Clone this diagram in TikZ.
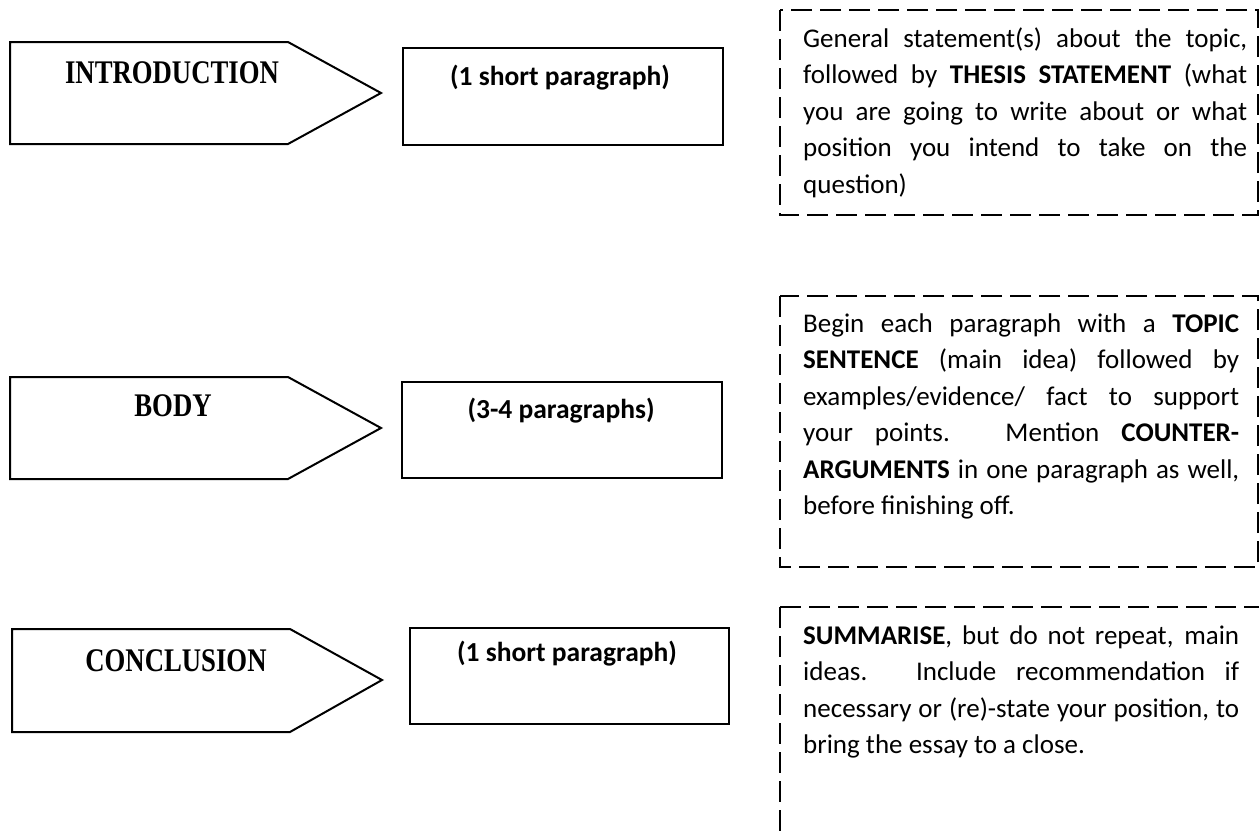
\documentclass[tikz,border=0pt]{standalone}
\usepackage{fontspec}
\setmainfont{Carlito}
\newfontfamily\lblfont[FakeStretch=0.81]{Liberation Serif}
\newcommand\jline[2]{\hbox to #1{#2}}
\tikzset{
  pent/.style={draw=black, line width=2pt, fill=white, line join=miter},
  sbox/.style={draw=black, line width=2pt, inner sep=0pt, anchor=north west},
  dbox/.style={draw=black, line width=2.5pt, dash pattern=on 21pt off 8pt},
  plabel/.style={inner sep=0pt, anchor=base, font=\lblfont\bfseries\fontsize{33}{38}\selectfont},
  slabel/.style={inner sep=0pt, anchor=base, font=\bfseries\fontsize{27.5}{32}\selectfont},
  para/.style={inner sep=0pt, anchor=base west, font=\fontsize{27}{36.6}\selectfont}
}
\begin{document}
\begin{tikzpicture}[x=1pt,y=-1pt]
\useasboundingbox (0,0) rectangle (1259,838);
\clip (0,0) rectangle (1259,838);
\fill[white] (0,0) rectangle (1259,838);

% pentagons
\draw[pent] (10,42) -- (288,42) -- (381,93) -- (288,144) -- (10,144) -- cycle;
\draw[pent] (10,377) -- (288,377) -- (381,428) -- (288,479) -- (10,479) -- cycle;
\draw[pent] (12,629) -- (290,629) -- (382,680) -- (290,732) -- (12,732) -- cycle;
\node[plabel] (lintro) at (172,83) {INTRODUCTION};
\node[plabel] (lbody) at (173,416) {BODY};
\node[plabel] (lconc) at (176,671) {CONCLUSION};

% small boxes
\node[sbox, minimum width=320pt, minimum height=97pt] (bintro) at (402,47) {};
\node[sbox, minimum width=320pt, minimum height=96pt] (bbody) at (401,381) {};
\node[sbox, minimum width=319pt, minimum height=96pt] (bconc) at (409,627) {};
\node[slabel] (tintro) at (560,85) {(1 short paragraph)};
\node[slabel] (tbody) at (561,418) {(3-4 paragraphs)};
\node[slabel] (tconc) at (567,661) {(1 short paragraph)};

% dashed boxes
\draw[dbox] (780,10) rectangle (1258,215);
\draw[dbox] (780,296) rectangle (1258,567);
\draw[dbox] (780,607) -- (1266,607);
\draw[dbox] (780,607) -- (780,850);

% paragraph texts
\node[para] (pintro) at (803,47) {\vtop{\baselineskip=36.6pt
\jline{444pt}{General statement(s) about the topic,}
\jline{444pt}{followed by \textbf{THESIS STATEMENT} (what}
\jline{444pt}{you are going to write about or what}
\jline{444pt}{position you intend to take on the}
\hbox{question)}}};
\node[para] (pbody) at (803,332) {\vtop{\baselineskip=36.5pt
\jline{436pt}{Begin each paragraph with a \textbf{TOPIC}}
\jline{436pt}{\textbf{SENTENCE} (main idea) followed by}
\jline{436pt}{examples/evidence/ fact to support}
\jline{436pt}{your points. Mention \textbf{COUNTER-}}
\jline{436pt}{\textbf{ARGUMENTS} in one paragraph as well,}
\hbox{before finishing off.}}};
\node[para] (pconc) at (803,644) {\vtop{\baselineskip=36.6pt
\jline{436pt}{\textbf{SUMMARISE}, but do not repeat, main}
\jline{436pt}{ideas. Include recommendation if}
\jline{436pt}{necessary or (re)-state your position, to}
\hbox{bring the essay to a close.}}};
\end{tikzpicture}
\end{document}
